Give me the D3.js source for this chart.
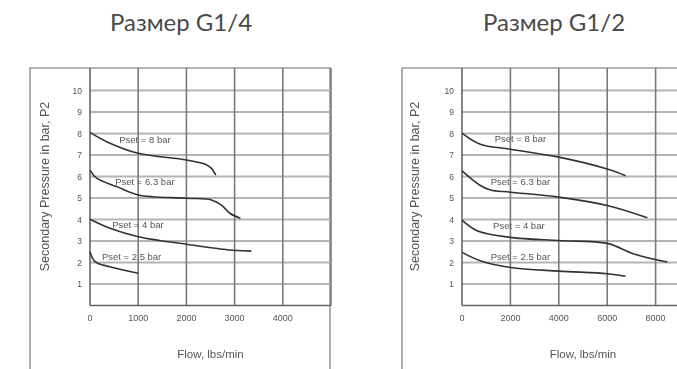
<!DOCTYPE html>
<html><head><meta charset="utf-8">
<script src="https://cdn.jsdelivr.net/npm/d3@7"></script>
<style>
html,body{margin:0;padding:0;background:#fff;}
svg{display:block;}
</style></head>
<body>
<svg id="c" width="677" height="369"></svg>
<script>
// ---- DATA ----
const titles = ["Размер G1/4", "Размер G1/2"];
const yTicks = [1,2,3,4,5,6,7,8,9,10];
const xTicksLeft = [0,1000,2000,3000,4000];
const xTicksRight = [0,2000,4000,6000,8000];
const yTitle = "Secondary Pressure in bar, P2";
const xTitle = "Flow, lbs/min";
const seriesNames = ["Pset = 8 bar","Pset = 6.3 bar","Pset = 4 bar","Pset = 2.5 bar"];

// G1/4 curves: flow (lbs/min), pressure (bar)
const left8_flow  = [0, 345, 1000, 2000, 2415, 2520, 2610];
const left8_p     = [8.05, 7.62, 7.08, 6.77, 6.55, 6.38, 6.07];
const left63_flow = [0, 138, 552, 1000, 2000, 2520, 2727, 2900, 3120];
const left63_p    = [6.3, 5.92, 5.53, 5.14, 4.99, 4.91, 4.67, 4.29, 4.06];
const left4_flow  = [0, 414, 1000, 2000, 2900, 3347];
const left4_p     = [4.01, 3.59, 3.2, 2.85, 2.58, 2.53];
const left25_flow = [0, 104, 414, 1000];
const left25_p    = [2.5, 2.04, 1.8, 1.5];
const leftLabelFlow = [1139, 1139, 994, 863];
const leftLabelP    = [7.7, 5.76, 3.74, 2.27];

// G1/2 curves
const right8_flow  = [0, 758, 2000, 4000, 6000, 6762];
const right8_p     = [8.02, 7.5, 7.27, 6.9, 6.35, 6.04];
const right63_flow = [0, 758, 1172, 2000, 4000, 6000, 7660];
const right63_p    = [6.26, 5.58, 5.37, 5.27, 5.04, 4.65, 4.08];
const right4_flow  = [0, 621, 2000, 4000, 6000, 7103, 8490];
const right4_p     = [3.97, 3.48, 3.17, 3.02, 2.89, 2.4, 2.02];
const right25_flow = [0, 758, 2000, 4000, 6000, 6760];
const right25_p    = [2.47, 2.08, 1.77, 1.6, 1.48, 1.36];
const rightLabelFlow = [2414, 2414, 2350, 2414];
const rightLabelP    = [7.78, 5.74, 3.69, 2.25];

const zip = (a,b)=>a.map((v,i)=>[v,b[i]]);
const charts = [
  {title:titles[0], titleX:181, box:{x:30,y:68,w:300}, plot:{x0:90,x1:331}, xMax:5000, xTicks:xTicksLeft,
   curves:[zip(left8_flow,left8_p),zip(left63_flow,left63_p),zip(left4_flow,left4_p),zip(left25_flow,left25_p)],
   lf:leftLabelFlow, lp:leftLabelP, yTitleX:45},
  {title:titles[1], titleX:554, box:{x:402,y:68,w:300}, plot:{x0:462,x1:704}, xMax:10000, xTicks:xTicksRight,
   curves:[zip(right8_flow,right8_p),zip(right63_flow,right63_p),zip(right4_flow,right4_p),zip(right25_flow,right25_p)],
   lf:rightLabelFlow, lp:rightLabelP, yTitleX:415}
];

const svg = d3.select("#c");
const defs = svg.append("defs");
defs.append("filter").attr("id","blur").attr("x","-5%").attr("y","-5%").attr("width","110%").attr("height","110%")
  .append("feGaussianBlur").attr("stdDeviation",0.6);

const yBottom = 305.5, yTop = 68;
const sans = "'Liberation Sans', Arial, sans-serif";

charts.forEach(ch=>{
  svg.append("text").attr("x",ch.titleX).attr("y",31).attr("text-anchor","middle")
    .attr("font-family","Lato, 'Open Sans', sans-serif").attr("font-weight",400).attr("font-size",24).attr("fill","#4a4a4a")
    .text(ch.title);

  const g = svg.append("g").attr("filter","url(#blur)");
  const x = d3.scaleLinear().domain([0,ch.xMax]).range([ch.plot.x0,ch.plot.x1]);
  const y = d3.scaleLinear().domain([0,10]).range([yBottom,90.5]);

  // outer box
  g.append("path").attr("d",`M${ch.box.x},372 V${ch.box.y} H${ch.box.x+ch.box.w} V372`)
    .attr("fill","none").attr("stroke","#9a9a9a").attr("stroke-width",1.6);

  // horizontal gridlines
  g.selectAll(".hg").data(yTicks).join("line")
    .attr("x1",ch.plot.x0).attr("x2",ch.plot.x1).attr("y1",d=>y(d)).attr("y2",d=>y(d))
    .attr("stroke","#b4b4b4").attr("stroke-width",2);
  // vertical gridlines
  const vt = ch.xTicks.filter(d=>d>0).concat([ch.xMax]);
  g.selectAll(".vg").data(vt).join("line")
    .attr("x1",d=>x(d)).attr("x2",d=>x(d)).attr("y1",yTop).attr("y2",yBottom)
    .attr("stroke","#7a7a7a").attr("stroke-width",1.6);
  // axes
  g.append("line").attr("x1",x(0)).attr("x2",x(0)).attr("y1",yTop).attr("y2",yBottom).attr("stroke","#666").attr("stroke-width",1.6);
  g.append("line").attr("x1",x(0)).attr("x2",ch.plot.x1).attr("y1",yBottom).attr("y2",yBottom).attr("stroke","#666").attr("stroke-width",1.6);

  // tick labels
  g.selectAll(".yl").data(yTicks).join("text")
    .attr("x",x(0)-8).attr("y",d=>y(d)+3).attr("text-anchor","end")
    .attr("font-family",sans).attr("font-size",8.5).attr("fill","#555").text(d=>d);
  g.selectAll(".xl").data(ch.xTicks).join("text")
    .attr("x",d=>x(d)).attr("y",321).attr("text-anchor","middle")
    .attr("font-family",sans).attr("font-size",9).attr("fill","#555").text(d=>d);

  // axis titles
  g.append("text").attr("transform",`translate(${ch.yTitleX+3.5},186.5) rotate(-90)`).attr("text-anchor","middle")
    .attr("font-family",sans).attr("font-size",12.5).attr("fill","#555").text(yTitle);
  g.append("text").attr("x",(ch.plot.x0+ch.plot.x1)/2).attr("y",357.5).attr("text-anchor","middle")
    .attr("font-family",sans).attr("font-size",11.5).attr("fill","#555").text(xTitle);

  // curves
  const line = d3.line().x(d=>x(d[0])).y(d=>y(d[1])).curve(d3.curveCatmullRom.alpha(0.5));
  g.selectAll(".cv").data(ch.curves).join("path")
    .attr("d",line).attr("fill","none").attr("stroke","#333").attr("stroke-width",1.6);

  // curve labels
  g.selectAll(".cl").data(seriesNames).join("text")
    .attr("x",(d,i)=>x(ch.lf[i])).attr("y",(d,i)=>y(ch.lp[i])+3.3).attr("text-anchor","middle")
    .attr("font-family",sans).attr("font-size",9.5).attr("fill","#555").text(d=>d);
});
</script>
</body></html>
